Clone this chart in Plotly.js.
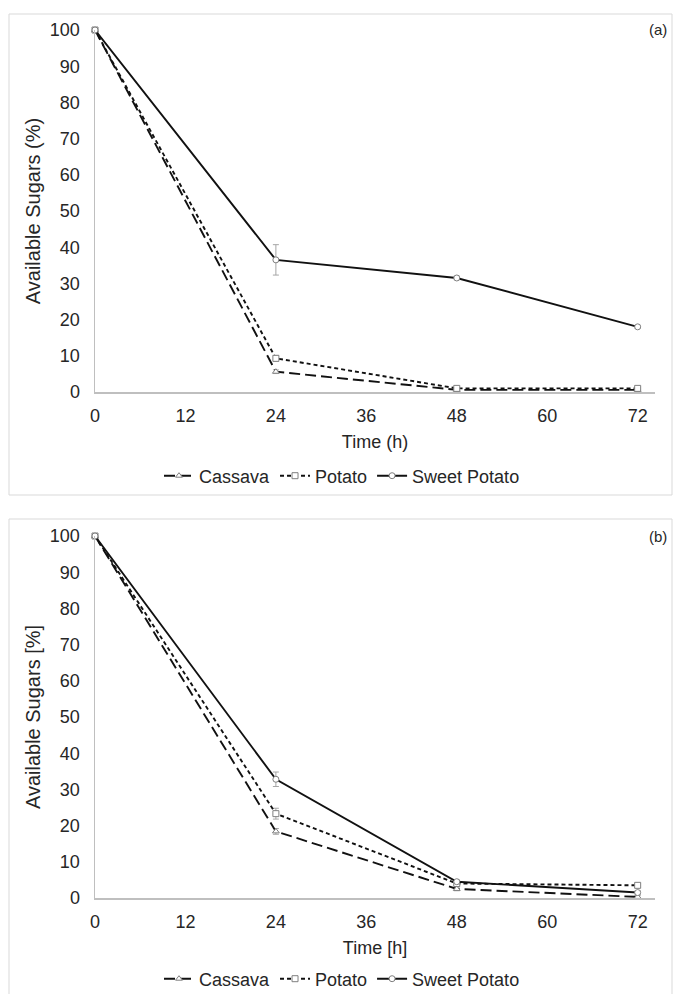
<!DOCTYPE html>
<html>
<head>
<meta charset="utf-8">
<script src="https://cdn.plot.ly/plotly-3.0.1.min.js"></script>
<style>html,body{margin:0;padding:0;background:#fff;}#chart{width:673px;height:994px;}</style>
</head>
<body>
<div id="chart"></div>
<script>
const time = [0, 24, 48, 72];
const xTicks = [0, 12, 24, 36, 48, 60, 72];

// Panel (a)
const cassavaA = [100, 5.6, 0.6, 0.6];
const cassavaAErr = [0, 0.5, 0.3, 0.3];
const potatoA = [100, 9.3, 1.0, 1.0];
const potatoAErr = [0, 0.8, 0.3, 0.3];
const sweetA = [100, 36.5, 31.5, 18.0];
const sweetAErr = [0, 4.2, 0.5, 0.4];

// Panel (b)
const cassavaB = [100, 18.4, 2.5, 0.3];
const cassavaBErr = [0, 0.8, 0.5, 0.4];
const potatoB = [100, 23.3, 4.0, 3.5];
const potatoBErr = [0, 1.5, 0.6, 0.6];
const sweetB = [100, 32.8, 4.5, 1.5];
const sweetBErr = [0, 2.0, 0.5, 0.5];

const names = ['Cassava', 'Potato', 'Sweet Potato'];
const dashes = ['11px,5px', '4px,3px', 'solid'];
const symbols = ['triangle-up', 'square', 'circle'];

function tr(i, y, err, xa, ya, leg) {
  return {
    x: time, y: y, name: names[i], type: 'scatter', mode: 'lines+markers',
    xaxis: xa, yaxis: ya, legend: leg, cliponaxis: false,
    line: {color: '#111111', width: 1.9, dash: dashes[i]},
    marker: {symbol: symbols[i], size: 6, color: '#ffffff', line: {color: '#7f7f7f', width: 1}},
    error_y: {type: 'data', array: err, visible: true, color: '#a6a6a6', thickness: 1, width: 3}
  };
}

const data = [
  tr(0, cassavaA, cassavaAErr, 'x', 'y', 'legend'),
  tr(1, potatoA, potatoAErr, 'x', 'y', 'legend'),
  tr(2, sweetA, sweetAErr, 'x', 'y', 'legend'),
  tr(0, cassavaB, cassavaBErr, 'x2', 'y2', 'legend2'),
  tr(1, potatoB, potatoBErr, 'x2', 'y2', 'legend2'),
  tr(2, sweetB, sweetBErr, 'x2', 'y2', 'legend2')
];

const W = 673, H = 994;
const fam = 'Liberation Sans, Arial, sans-serif';
const font = {family: fam, size: 18, color: '#262626'};
const ytFont = {family: fam, size: 20, color: '#262626'};
const xdom = [95 / W, 655 / W];

function xax(title, anchor) {
  return {
    domain: xdom, range: [0, 74.3], anchor: anchor,
    tickvals: xTicks, ticktext: xTicks.map(String),
    showgrid: false, zeroline: false, showline: true, linecolor: '#bfbfbf', linewidth: 1.5,
    ticks: '', ticklabelstandoff: 7, tickfont: font, automargin: false,
    title: {text: title, font: font, standoff: 10}, fixedrange: true
  };
}
function yax(title, dom, anchor) {
  return {
    domain: dom, range: [0, 100], anchor: anchor, dtick: 10, tick0: 0,
    showgrid: false, zeroline: false, showline: true, linecolor: '#bfbfbf', linewidth: 1.5,
    ticks: '', ticklabelstandoff: 10, tickfont: font, automargin: false,
    title: {text: title, font: ytFont, standoff: 4}, fixedrange: true
  };
}

const legendBase = {
  orientation: 'h', xanchor: 'center', yanchor: 'middle', x: 342 / W,
  font: font, itemwidth: 30, tracegroupgap: 0, bgcolor: 'rgba(0,0,0,0)'
};

const layout = {
  width: W, height: H,
  margin: {l: 0, r: 0, t: 0, b: 0, autoexpand: false},
  paper_bgcolor: '#ffffff', plot_bgcolor: '#ffffff',
  font: font,
  showlegend: true,
  xaxis: xax('Time (h)', 'y'),
  yaxis: yax('Available Sugars (%)', [1 - 392 / H, 1 - 30 / H], 'x'),
  xaxis2: xax('Time [h]', 'y2'),
  yaxis2: yax('Available Sugars [%]', [1 - 898 / H, 1 - 536 / H], 'x2'),
  legend: Object.assign({}, legendBase, {y: 1 - 476 / H}),
  legend2: Object.assign({}, legendBase, {y: 1 - 979 / H}),
  shapes: [
    {type: 'rect', xref: 'paper', yref: 'paper', x0: 9 / W, x1: 672 / W, y0: 1 - 495 / H, y1: 1 - 14 / H,
     line: {color: '#d9d9d9', width: 1}, fillcolor: 'rgba(0,0,0,0)', layer: 'below'},
    {type: 'rect', xref: 'paper', yref: 'paper', x0: 9 / W, x1: 672 / W, y0: -0.02, y1: 1 - 519 / H,
     line: {color: '#d9d9d9', width: 1}, fillcolor: 'rgba(0,0,0,0)', layer: 'below'}
  ],
  annotations: [
    {text: '(a)', xref: 'paper', yref: 'paper', x: 669 / W, y: 1 - 30 / H, xanchor: 'right', yanchor: 'middle',
     showarrow: false, font: {family: fam, size: 15, color: '#262626'}},
    {text: '(b)', xref: 'paper', yref: 'paper', x: 669 / W, y: 1 - 536 / H, xanchor: 'right', yanchor: 'middle',
     showarrow: false, font: {family: fam, size: 15, color: '#262626'}}
  ]
};

Plotly.newPlot('chart', data, layout, {displayModeBar: false, staticPlot: true});
</script>
</body>
</html>
